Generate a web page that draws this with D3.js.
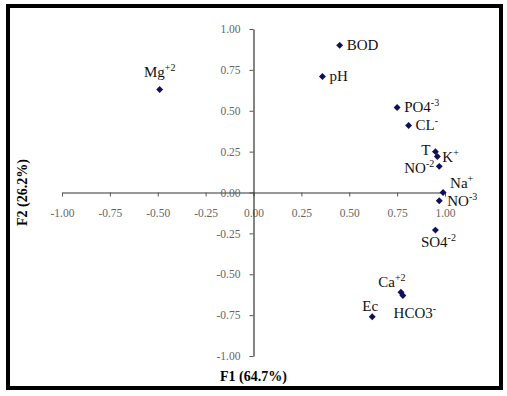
<!DOCTYPE html>
<html>
<head>
<meta charset="utf-8">
<script src="https://cdn.jsdelivr.net/npm/d3@7"></script>
<style>
  body { margin: 0; background: #fff; }
  svg text { font-family: "Liberation Serif", "Times New Roman", serif; }
</style>
</head>
<body>
<div id="chart"></div>
<script>
// variable names (base text + superscript), F1 / F2 loadings
const names  = ["Mg", "BOD", "pH", "PO4", "CL", "T", "K", "NO", "Na", "NO", "SO4", "Ca", "Ec", "HCO3"];
const supers = ["+2", "", "", "-3", "-", "", "+", "-2", "+", "-3", "-2", "+2", "", "-"];
const f1 = [-0.49, 0.45, 0.36, 0.75, 0.81, 0.95, 0.96, 0.97, 0.99, 0.97, 0.95, 0.77, 0.62, 0.78];
const f2 = [0.63, 0.90, 0.71, 0.52, 0.41, 0.25, 0.22, 0.16, 0.00, -0.05, -0.23, -0.61, -0.76, -0.63];
const ticks = [-1, -0.75, -0.5, -0.25, 0, 0.25, 0.5, 0.75, 1];

const W = 507, H = 396;
const svg = d3.select("#chart").append("svg")
    .attr("width", W).attr("height", H);

// outer frame
svg.append("rect")
    .attr("x", 8).attr("y", 6).attr("width", 493).attr("height", 382)
    .attr("fill", "#fff").attr("stroke", "#000").attr("stroke-width", 4);

const x = d3.scaleLinear().domain([-1, 1]).range([62, 445]);
const y = d3.scaleLinear().domain([-1, 1]).range([356, 29]);

// plain hyphen for negatives, like the original
const fmt = d => d3.format(".2f")(d).replace("\u2212", "-");

// x axis through y = 0
const xAxis = svg.append("g")
    .attr("transform", `translate(0,${y(0)})`)
    .call(d3.axisBottom(x).tickValues(ticks).tickFormat(fmt).tickSize(4).tickSizeOuter(0));
xAxis.selectAll("text").attr("dy", "1.5em");

// y axis through x = 0
const yAxis = svg.append("g")
    .attr("transform", `translate(${x(0)},0)`)
    .call(d3.axisLeft(y).tickValues(ticks).tickFormat(fmt).tickSize(4).tickSizeOuter(0));
yAxis.selectAll("text").attr("dx", "-6px");

svg.selectAll(".domain").attr("stroke", "#333").attr("stroke-width", 1.2);
svg.selectAll(".tick line").attr("stroke", "#555");
svg.selectAll(".tick text")
    .style("font-family", "'Liberation Serif', serif")
    .style("font-size", "11.5px").attr("fill", "#666");

// axis titles
svg.append("text")
    .attr("x", x(0)).attr("y", 381)
    .attr("text-anchor", "middle")
    .style("font-weight", "bold").style("font-size", "14px")
    .text("F1 (64.7%)");

svg.append("text")
    .attr("transform", `translate(27,${y(0)}) rotate(-90)`)
    .attr("text-anchor", "middle")
    .style("font-weight", "bold").style("font-size", "14px")
    .text("F2 (26.2%)");

// label placement around each point
const place = {
    0: { dx: 0, dy: -12, anchor: "middle" },   // Mg
    1: { dx: 7, dy: 5, anchor: "start" },      // BOD
    2: { dx: 7, dy: 5, anchor: "start" },      // pH
    3: { dx: 7, dy: 5, anchor: "start" },      // PO4
    4: { dx: 7, dy: 5, anchor: "start" },      // CL
    5: { dx: -5, dy: 3, anchor: "end" },       // T
    6: { dx: 5, dy: 5, anchor: "start" },      // K
    7: { dx: -5, dy: 7, anchor: "end" },       // NO-2
    8: { dx: 7, dy: -5, anchor: "start" },     // Na
    9: { dx: 8, dy: 5, anchor: "start" },      // NO-3
    10: { dx: 3, dy: 17, anchor: "middle" },   // SO4
    11: { dx: -9, dy: -5, anchor: "middle" },  // Ca
    12: { dx: -2, dy: -6, anchor: "middle" },  // Ec
    13: { dx: 12, dy: 22, anchor: "middle" }   // HCO3
};

const pts = names.map((n, i) => ({ name: n, sup: supers[i], f1: f1[i], f2: f2[i], i: i }));

svg.append("g").selectAll("path")
    .data(pts)
    .join("path")
    .attr("d", d3.symbol(d3.symbolSquare, 24))
    .attr("transform", d => `translate(${x(d.f1)},${y(d.f2)}) rotate(45)`)
    .attr("fill", "#10105a");

const lab = svg.append("g").selectAll("text")
    .data(pts)
    .join("text")
    .attr("x", d => x(d.f1) + place[d.i].dx)
    .attr("y", d => y(d.f2) + place[d.i].dy)
    .attr("text-anchor", d => place[d.i].anchor)
    .style("font-size", "15px")
    .attr("fill", "#111");

lab.append("tspan").text(d => d.name);
lab.filter(d => d.sup !== "").append("tspan")
    .attr("dy", -6)
    .style("font-size", "10px")
    .text(d => d.sup);
</script>
</body>
</html>
